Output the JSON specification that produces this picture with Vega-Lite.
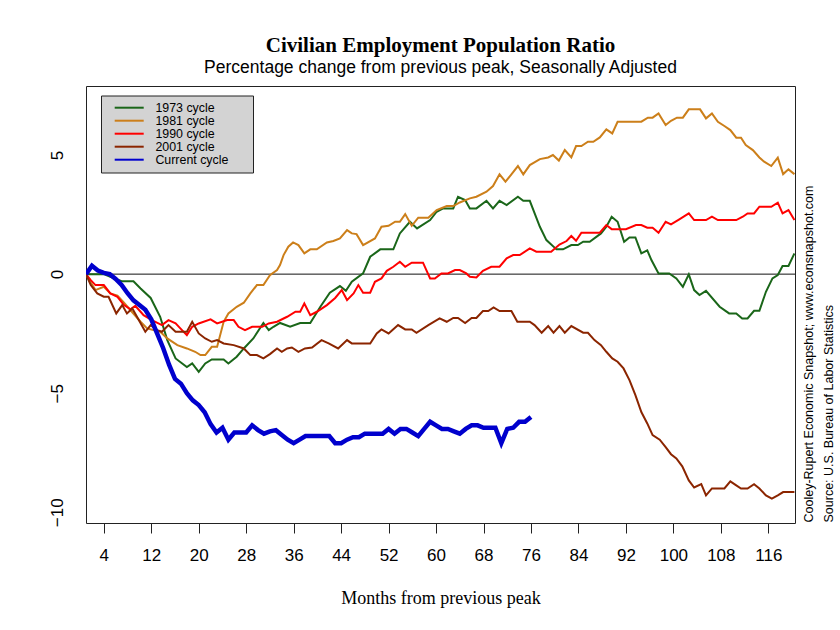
{
  "$schema": "https://vega.github.io/schema/vega-lite/v6.json",
  "width": 709,
  "height": 437,
  "autosize": {"type": "none"},
  "padding": {"left": 86, "top": 86, "right": 45, "bottom": 107},
  "background": "white",
  "title": {
    "text": "Civilian Employment Population Ratio",
    "subtitle": "Percentage change from previous peak, Seasonally Adjusted",
    "font": "Liberation Serif", "fontSize": 21, "fontWeight": "bold", "color": "black",
    "subtitleFont": "Liberation Sans", "subtitleFontSize": 17.5, "subtitleColor": "black",
    "anchor": "middle", "frame": "group", "offset": 10, "subtitlePadding": 3
  },
  "config": {
    "view": {"stroke": "#222", "strokeWidth": 1},
    "axis": {"grid": false}
  },
  "data": {"values": [
    {"series":"1973 cycle","month":1,"value":0},{"series":"1973 cycle","month":4,"value":0},{"series":"1973 cycle","month":5,"value":-0.1},{"series":"1973 cycle","month":7,"value":-0.3},{"series":"1973 cycle","month":9,"value":-0.3},{"series":"1973 cycle","month":10.2,"value":-0.6},{"series":"1973 cycle","month":11.9,"value":-1.0},{"series":"1973 cycle","month":13.5,"value":-1.79},{"series":"1973 cycle","month":14.7,"value":-2.77},{"series":"1973 cycle","month":16.1,"value":-3.54},{"series":"1973 cycle","month":18,"value":-3.9},{"series":"1973 cycle","month":18.9,"value":-3.75},{"series":"1973 cycle","month":20,"value":-4.1},{"series":"1973 cycle","month":21.1,"value":-3.75},{"series":"1973 cycle","month":22.2,"value":-3.58},{"series":"1973 cycle","month":24.2,"value":-3.58},{"series":"1973 cycle","month":25,"value":-3.75},{"series":"1973 cycle","month":26.4,"value":-3.47},{"series":"1973 cycle","month":27.6,"value":-3.12},{"series":"1973 cycle","month":29.2,"value":-2.7},{"series":"1973 cycle","month":30.9,"value":-2.05},{"series":"1973 cycle","month":31.8,"value":-2.35},{"series":"1973 cycle","month":32.6,"value":-2.21},{"series":"1973 cycle","month":33.7,"value":-2.05},{"series":"1973 cycle","month":35.4,"value":-2.21},{"series":"1973 cycle","month":37.1,"value":-2.05},{"series":"1973 cycle","month":38.8,"value":-2.05},{"series":"1973 cycle","month":40.5,"value":-1.37},{"series":"1973 cycle","month":42.1,"value":-0.78},{"series":"1973 cycle","month":43.8,"value":-0.5},{"series":"1973 cycle","month":44.8,"value":-0.7},{"series":"1973 cycle","month":45.8,"value":-0.32},{"series":"1973 cycle","month":47.7,"value":0.03},{"series":"1973 cycle","month":48.9,"value":0.73},{"series":"1973 cycle","month":50.6,"value":1.04},{"series":"1973 cycle","month":52.8,"value":1.04},{"series":"1973 cycle","month":53.9,"value":1.71},{"series":"1973 cycle","month":55.6,"value":2.2},{"series":"1973 cycle","month":56.8,"value":1.92},{"series":"1973 cycle","month":59,"value":2.27},{"series":"1973 cycle","month":60.1,"value":2.62},{"series":"1973 cycle","month":61.2,"value":2.76},{"series":"1973 cycle","month":62.9,"value":2.76},{"series":"1973 cycle","month":63.7,"value":3.25},{"series":"1973 cycle","month":64.9,"value":3.11},{"series":"1973 cycle","month":65.7,"value":2.76},{"series":"1973 cycle","month":66.8,"value":2.76},{"series":"1973 cycle","month":68.5,"value":3.08},{"series":"1973 cycle","month":69.6,"value":2.76},{"series":"1973 cycle","month":70.7,"value":3.08},{"series":"1973 cycle","month":71.9,"value":2.9},{"series":"1973 cycle","month":73.8,"value":3.25},{"series":"1973 cycle","month":74.7,"value":3.08},{"series":"1973 cycle","month":75.8,"value":3.08},{"series":"1973 cycle","month":77.5,"value":1.99},{"series":"1973 cycle","month":78.6,"value":1.43},{"series":"1973 cycle","month":80.3,"value":1.04},{"series":"1973 cycle","month":81.4,"value":1.04},{"series":"1973 cycle","month":82.8,"value":1.22},{"series":"1973 cycle","month":83.9,"value":1.22},{"series":"1973 cycle","month":84.8,"value":1.36},{"series":"1973 cycle","month":85.9,"value":1.36},{"series":"1973 cycle","month":87.8,"value":1.71},{"series":"1973 cycle","month":88.7,"value":1.99},{"series":"1973 cycle","month":89.6,"value":2.41},{"series":"1973 cycle","month":90.6,"value":2.2},{"series":"1973 cycle","month":91.7,"value":1.36},{"series":"1973 cycle","month":92.6,"value":1.54},{"series":"1973 cycle","month":93.6,"value":1.54},{"series":"1973 cycle","month":94.6,"value":0.87},{"series":"1973 cycle","month":95.6,"value":1.0},{"series":"1973 cycle","month":96.3,"value":0.59},{"series":"1973 cycle","month":97.5,"value":0.03},{"series":"1973 cycle","month":99.3,"value":0.03},{"series":"1973 cycle","month":100.5,"value":-0.18},{"series":"1973 cycle","month":101.6,"value":-0.53},{"series":"1973 cycle","month":102.6,"value":-0.01},{"series":"1973 cycle","month":103.5,"value":-0.67},{"series":"1973 cycle","month":104.4,"value":-0.88},{"series":"1973 cycle","month":105.5,"value":-0.7},{"series":"1973 cycle","month":107.8,"value":-1.37},{"series":"1973 cycle","month":109.4,"value":-1.65},{"series":"1973 cycle","month":110.6,"value":-1.65},{"series":"1973 cycle","month":111.6,"value":-1.86},{"series":"1973 cycle","month":112.5,"value":-1.86},{"series":"1973 cycle","month":113.6,"value":-1.54},{"series":"1973 cycle","month":114.5,"value":-1.54},{"series":"1973 cycle","month":115.6,"value":-0.74},{"series":"1973 cycle","month":116.7,"value":-0.18},{"series":"1973 cycle","month":117.6,"value":-0.04},{"series":"1973 cycle","month":118.4,"value":0.34},{"series":"1973 cycle","month":119.4,"value":0.34},{"series":"1973 cycle","month":120.4,"value":0.87},

    {"series":"1981 cycle","month":1,"value":0},{"series":"1981 cycle","month":1.8,"value":-0.35},{"series":"1981 cycle","month":2.6,"value":-0.67},{"series":"1981 cycle","month":4,"value":-0.53},{"series":"1981 cycle","month":5.1,"value":-0.81},{"series":"1981 cycle","month":6.3,"value":-0.9},{"series":"1981 cycle","month":7.4,"value":-1.2},{"series":"1981 cycle","month":8.8,"value":-1.6},{"series":"1981 cycle","month":10.2,"value":-2.0},{"series":"1981 cycle","month":11.3,"value":-2.28},{"series":"1981 cycle","month":13.5,"value":-2.42},{"series":"1981 cycle","month":14.7,"value":-2.7},{"series":"1981 cycle","month":16.4,"value":-2.98},{"series":"1981 cycle","month":18,"value":-3.12},{"series":"1981 cycle","month":19.4,"value":-3.26},{"series":"1981 cycle","month":20.3,"value":-3.4},{"series":"1981 cycle","month":21.1,"value":-3.4},{"series":"1981 cycle","month":22.2,"value":-3.05},{"series":"1981 cycle","month":23.1,"value":-3.05},{"series":"1981 cycle","month":24.2,"value":-2.0},{"series":"1981 cycle","month":25,"value":-1.65},{"series":"1981 cycle","month":26.4,"value":-1.37},{"series":"1981 cycle","month":27.6,"value":-1.2},{"series":"1981 cycle","month":28.7,"value":-0.81},{"series":"1981 cycle","month":29.8,"value":-0.46},{"series":"1981 cycle","month":30.9,"value":-0.46},{"series":"1981 cycle","month":32,"value":-0.04},{"series":"1981 cycle","month":33.2,"value":0.17},{"series":"1981 cycle","month":33.7,"value":0.38},{"series":"1981 cycle","month":34.3,"value":0.8},{"series":"1981 cycle","month":35.1,"value":1.15},{"series":"1981 cycle","month":35.9,"value":1.33},{"series":"1981 cycle","month":36.8,"value":1.22},{"series":"1981 cycle","month":37.8,"value":0.87},{"series":"1981 cycle","month":38.8,"value":1.04},{"series":"1981 cycle","month":39.9,"value":1.04},{"series":"1981 cycle","month":41.6,"value":1.33},{"series":"1981 cycle","month":42.7,"value":1.39},{"series":"1981 cycle","month":43.8,"value":1.5},{"series":"1981 cycle","month":45,"value":1.85},{"series":"1981 cycle","month":45.8,"value":1.71},{"series":"1981 cycle","month":46.6,"value":1.68},{"series":"1981 cycle","month":47.7,"value":1.22},{"series":"1981 cycle","month":49.7,"value":1.5},{"series":"1981 cycle","month":50.8,"value":1.99},{"series":"1981 cycle","month":52,"value":2.03},{"series":"1981 cycle","month":53.1,"value":2.2},{"series":"1981 cycle","month":53.9,"value":2.2},{"series":"1981 cycle","month":54.8,"value":2.52},{"series":"1981 cycle","month":55.9,"value":2.03},{"series":"1981 cycle","month":57,"value":2.37},{"series":"1981 cycle","month":58.7,"value":2.37},{"series":"1981 cycle","month":60.1,"value":2.69},{"series":"1981 cycle","month":61.8,"value":2.86},{"series":"1981 cycle","month":62.9,"value":2.86},{"series":"1981 cycle","month":64,"value":3.01},{"series":"1981 cycle","month":65.7,"value":3.18},{"series":"1981 cycle","month":66.8,"value":3.25},{"series":"1981 cycle","month":68.5,"value":3.46},{"series":"1981 cycle","month":69.6,"value":3.7},{"series":"1981 cycle","month":70.7,"value":4.19},{"series":"1981 cycle","month":71.7,"value":3.88},{"series":"1981 cycle","month":72.7,"value":4.19},{"series":"1981 cycle","month":73.8,"value":4.54},{"series":"1981 cycle","month":74.7,"value":4.19},{"series":"1981 cycle","month":75.8,"value":4.58},{"series":"1981 cycle","month":77.5,"value":4.83},{"series":"1981 cycle","month":78.9,"value":4.9},{"series":"1981 cycle","month":79.7,"value":5.0},{"series":"1981 cycle","month":80.7,"value":4.77},{"series":"1981 cycle","month":81.7,"value":5.21},{"series":"1981 cycle","month":82.8,"value":4.9},{"series":"1981 cycle","month":83.6,"value":5.38},{"series":"1981 cycle","month":84.5,"value":5.38},{"series":"1981 cycle","month":85.6,"value":5.56},{"series":"1981 cycle","month":86.5,"value":5.56},{"series":"1981 cycle","month":87.6,"value":5.74},{"series":"1981 cycle","month":88.7,"value":6.08},{"series":"1981 cycle","month":89.7,"value":5.91},{"series":"1981 cycle","month":90.6,"value":6.4},{"series":"1981 cycle","month":94.6,"value":6.4},{"series":"1981 cycle","month":95.7,"value":6.57},{"series":"1981 cycle","month":96.5,"value":6.57},{"series":"1981 cycle","month":97.5,"value":6.75},{"series":"1981 cycle","month":98.7,"value":6.26},{"series":"1981 cycle","month":99.6,"value":6.44},{"series":"1981 cycle","month":100.6,"value":6.57},{"series":"1981 cycle","month":101.6,"value":6.57},{"series":"1981 cycle","month":102.6,"value":6.92},{"series":"1981 cycle","month":104.5,"value":6.92},{"series":"1981 cycle","month":105.5,"value":6.54},{"series":"1981 cycle","month":106.5,"value":6.75},{"series":"1981 cycle","month":107.5,"value":6.4},{"series":"1981 cycle","month":108.6,"value":6.22},{"series":"1981 cycle","month":109.6,"value":6.05},{"series":"1981 cycle","month":110.6,"value":5.73},{"series":"1981 cycle","month":111.4,"value":5.73},{"series":"1981 cycle","month":112.2,"value":5.42},{"series":"1981 cycle","month":113.4,"value":5.21},{"series":"1981 cycle","month":114.5,"value":4.9},{"series":"1981 cycle","month":115.3,"value":4.72},{"series":"1981 cycle","month":116.5,"value":4.54},{"series":"1981 cycle","month":117.6,"value":4.89},{"series":"1981 cycle","month":118.5,"value":4.2},{"series":"1981 cycle","month":119.4,"value":4.4},{"series":"1981 cycle","month":120.4,"value":4.2},

    {"series":"1990 cycle","month":1,"value":0},{"series":"1990 cycle","month":1.8,"value":-0.25},{"series":"1990 cycle","month":2.6,"value":-0.46},{"series":"1990 cycle","month":4,"value":-0.46},{"series":"1990 cycle","month":5.1,"value":-0.81},{"series":"1990 cycle","month":6.3,"value":-0.95},{"series":"1990 cycle","month":7.4,"value":-1.3},{"series":"1990 cycle","month":8.5,"value":-1.48},{"series":"1990 cycle","month":9.3,"value":-1.33},{"series":"1990 cycle","month":10.2,"value":-1.58},{"series":"1990 cycle","month":10.7,"value":-1.72},{"series":"1990 cycle","month":12.1,"value":-1.93},{"series":"1990 cycle","month":13.8,"value":-2.14},{"series":"1990 cycle","month":14.9,"value":-1.93},{"series":"1990 cycle","month":16.1,"value":-2.07},{"series":"1990 cycle","month":16.9,"value":-2.28},{"series":"1990 cycle","month":18,"value":-2.56},{"series":"1990 cycle","month":18.9,"value":-2.21},{"series":"1990 cycle","month":20,"value":-2.07},{"series":"1990 cycle","month":22,"value":-1.9},{"series":"1990 cycle","month":23.1,"value":-2.07},{"series":"1990 cycle","month":24.8,"value":-1.93},{"series":"1990 cycle","month":25.9,"value":-1.93},{"series":"1990 cycle","month":26.7,"value":-2.21},{"series":"1990 cycle","month":27.8,"value":-2.35},{"series":"1990 cycle","month":29,"value":-2.21},{"series":"1990 cycle","month":30.7,"value":-2.21},{"series":"1990 cycle","month":31.8,"value":-2.07},{"series":"1990 cycle","month":33.2,"value":-2.0},{"series":"1990 cycle","month":34.9,"value":-1.79},{"series":"1990 cycle","month":36.3,"value":-1.58},{"series":"1990 cycle","month":37.1,"value":-1.58},{"series":"1990 cycle","month":37.8,"value":-1.23},{"series":"1990 cycle","month":38.8,"value":-1.72},{"series":"1990 cycle","month":39.9,"value":-1.58},{"series":"1990 cycle","month":41.6,"value":-1.3},{"series":"1990 cycle","month":43,"value":-1.0},{"series":"1990 cycle","month":44.1,"value":-0.67},{"series":"1990 cycle","month":45,"value":-1.09},{"series":"1990 cycle","month":46.1,"value":-0.81},{"series":"1990 cycle","month":46.9,"value":-0.46},{"series":"1990 cycle","month":47.7,"value":-0.78},{"series":"1990 cycle","month":48.9,"value":-0.78},{"series":"1990 cycle","month":49.7,"value":-0.32},{"series":"1990 cycle","month":50.8,"value":-0.18},{"series":"1990 cycle","month":51.7,"value":0.14},{"series":"1990 cycle","month":52.8,"value":0.31},{"series":"1990 cycle","month":53.9,"value":0.52},{"series":"1990 cycle","month":54.8,"value":0.31},{"series":"1990 cycle","month":55.9,"value":0.48},{"series":"1990 cycle","month":57.8,"value":0.48},{"series":"1990 cycle","month":59,"value":-0.18},{"series":"1990 cycle","month":59.8,"value":-0.18},{"series":"1990 cycle","month":60.9,"value":0.03},{"series":"1990 cycle","month":62,"value":0.03},{"series":"1990 cycle","month":63.2,"value":0.17},{"series":"1990 cycle","month":64,"value":0.17},{"series":"1990 cycle","month":65.1,"value":0.03},{"series":"1990 cycle","month":65.7,"value":-0.11},{"series":"1990 cycle","month":66.8,"value":-0.14},{"series":"1990 cycle","month":67.9,"value":0.14},{"series":"1990 cycle","month":69.3,"value":0.31},{"series":"1990 cycle","month":70.7,"value":0.31},{"series":"1990 cycle","month":71.9,"value":0.66},{"series":"1990 cycle","month":73,"value":0.8},{"series":"1990 cycle","month":74.1,"value":0.8},{"series":"1990 cycle","month":75.8,"value":1.08},{"series":"1990 cycle","month":76.9,"value":0.94},{"series":"1990 cycle","month":79.4,"value":0.94},{"series":"1990 cycle","month":80.8,"value":1.24},{"series":"1990 cycle","month":82,"value":1.39},{"series":"1990 cycle","month":82.8,"value":1.6},{"series":"1990 cycle","month":83.6,"value":1.4},{"series":"1990 cycle","month":84.5,"value":1.74},{"series":"1990 cycle","month":87.6,"value":1.74},{"series":"1990 cycle","month":88.7,"value":2.06},{"series":"1990 cycle","month":89.6,"value":1.89},{"series":"1990 cycle","month":92,"value":1.89},{"series":"1990 cycle","month":93.7,"value":2.06},{"series":"1990 cycle","month":94.6,"value":2.06},{"series":"1990 cycle","month":95.6,"value":1.95},{"series":"1990 cycle","month":96.5,"value":1.95},{"series":"1990 cycle","month":97.5,"value":1.74},{"series":"1990 cycle","month":98.7,"value":2.2},{"series":"1990 cycle","month":99.6,"value":2.09},{"series":"1990 cycle","month":101,"value":2.3},{"series":"1990 cycle","month":102.6,"value":2.55},{"series":"1990 cycle","month":103.5,"value":2.27},{"series":"1990 cycle","month":105.5,"value":2.27},{"series":"1990 cycle","month":106.5,"value":2.41},{"series":"1990 cycle","month":107.5,"value":2.27},{"series":"1990 cycle","month":110.6,"value":2.27},{"series":"1990 cycle","month":111.7,"value":2.41},{"series":"1990 cycle","month":112.5,"value":2.55},{"series":"1990 cycle","month":113.6,"value":2.55},{"series":"1990 cycle","month":114.5,"value":2.83},{"series":"1990 cycle","month":116.5,"value":2.83},{"series":"1990 cycle","month":117.6,"value":3.0},{"series":"1990 cycle","month":118.4,"value":2.55},{"series":"1990 cycle","month":119.4,"value":2.69},{"series":"1990 cycle","month":120.4,"value":2.27},

    {"series":"2001 cycle","month":1,"value":0},{"series":"2001 cycle","month":1.8,"value":-0.46},{"series":"2001 cycle","month":2.9,"value":-0.81},{"series":"2001 cycle","month":4,"value":-0.95},{"series":"2001 cycle","month":4.8,"value":-0.95},{"series":"2001 cycle","month":6.1,"value":-1.65},{"series":"2001 cycle","month":7.1,"value":-1.3},{"series":"2001 cycle","month":7.9,"value":-1.65},{"series":"2001 cycle","month":8.8,"value":-1.44},{"series":"2001 cycle","month":9.9,"value":-1.93},{"series":"2001 cycle","month":11,"value":-2.42},{"series":"2001 cycle","month":11.9,"value":-2.14},{"series":"2001 cycle","month":13,"value":-2.35},{"series":"2001 cycle","month":13.8,"value":-2.42},{"series":"2001 cycle","month":14.9,"value":-2.14},{"series":"2001 cycle","month":16.1,"value":-2.42},{"series":"2001 cycle","month":18,"value":-2.42},{"series":"2001 cycle","month":18.9,"value":-2.0},{"series":"2001 cycle","month":20,"value":-2.49},{"series":"2001 cycle","month":21.1,"value":-2.7},{"series":"2001 cycle","month":22.2,"value":-2.84},{"series":"2001 cycle","month":23.1,"value":-2.77},{"series":"2001 cycle","month":24.2,"value":-2.91},{"series":"2001 cycle","month":25.9,"value":-2.98},{"series":"2001 cycle","month":27.6,"value":-3.12},{"series":"2001 cycle","month":28.7,"value":-3.4},{"series":"2001 cycle","month":29.8,"value":-3.4},{"series":"2001 cycle","month":30.9,"value":-3.54},{"series":"2001 cycle","month":32,"value":-3.36},{"series":"2001 cycle","month":33.2,"value":-3.12},{"series":"2001 cycle","month":34,"value":-3.26},{"series":"2001 cycle","month":34.9,"value":-3.12},{"series":"2001 cycle","month":35.7,"value":-3.08},{"series":"2001 cycle","month":36.8,"value":-3.26},{"series":"2001 cycle","month":37.9,"value":-3.12},{"series":"2001 cycle","month":39.1,"value":-3.08},{"series":"2001 cycle","month":40.7,"value":-2.77},{"series":"2001 cycle","month":41.9,"value":-2.91},{"series":"2001 cycle","month":43.5,"value":-3.12},{"series":"2001 cycle","month":45,"value":-2.77},{"series":"2001 cycle","month":45.8,"value":-2.91},{"series":"2001 cycle","month":48.9,"value":-2.91},{"series":"2001 cycle","month":50,"value":-2.49},{"series":"2001 cycle","month":50.8,"value":-2.32},{"series":"2001 cycle","month":52,"value":-2.49},{"series":"2001 cycle","month":53.6,"value":-2.14},{"series":"2001 cycle","month":54.8,"value":-2.32},{"series":"2001 cycle","month":55.9,"value":-2.32},{"series":"2001 cycle","month":56.7,"value":-2.46},{"series":"2001 cycle","month":58.7,"value":-2.14},{"series":"2001 cycle","month":60.6,"value":-1.86},{"series":"2001 cycle","month":61.8,"value":-2.0},{"series":"2001 cycle","month":62.9,"value":-1.84},{"series":"2001 cycle","month":63.7,"value":-1.84},{"series":"2001 cycle","month":64.9,"value":-2.05},{"series":"2001 cycle","month":66,"value":-1.84},{"series":"2001 cycle","month":66.8,"value":-1.84},{"series":"2001 cycle","month":67.9,"value":-1.55},{"series":"2001 cycle","month":68.8,"value":-1.55},{"series":"2001 cycle","month":69.7,"value":-1.4},{"series":"2001 cycle","month":70.7,"value":-1.55},{"series":"2001 cycle","month":72.7,"value":-1.55},{"series":"2001 cycle","month":73.7,"value":-2.0},{"series":"2001 cycle","month":75.8,"value":-2.0},{"series":"2001 cycle","month":76.6,"value":-2.14},{"series":"2001 cycle","month":77.8,"value":-2.46},{"series":"2001 cycle","month":78.9,"value":-2.18},{"series":"2001 cycle","month":79.8,"value":-2.46},{"series":"2001 cycle","month":80.8,"value":-2.18},{"series":"2001 cycle","month":81.7,"value":-2.46},{"series":"2001 cycle","month":82.8,"value":-2.18},{"series":"2001 cycle","month":84.8,"value":-2.46},{"series":"2001 cycle","month":85.6,"value":-2.46},{"series":"2001 cycle","month":86.7,"value":-2.77},{"series":"2001 cycle","month":87.8,"value":-2.98},{"series":"2001 cycle","month":88.7,"value":-3.26},{"series":"2001 cycle","month":89.7,"value":-3.54},{"series":"2001 cycle","month":90.6,"value":-3.68},{"series":"2001 cycle","month":91.6,"value":-3.96},{"series":"2001 cycle","month":92.6,"value":-4.45},{"series":"2001 cycle","month":93.6,"value":-5.08},{"series":"2001 cycle","month":94.6,"value":-5.79},{"series":"2001 cycle","month":95.6,"value":-6.27},{"series":"2001 cycle","month":96.5,"value":-6.76},{"series":"2001 cycle","month":97.7,"value":-6.95},{"series":"2001 cycle","month":98.7,"value":-7.26},{"series":"2001 cycle","month":99.6,"value":-7.56},{"series":"2001 cycle","month":100.5,"value":-7.74},{"series":"2001 cycle","month":101.5,"value":-8.07},{"series":"2001 cycle","month":102.6,"value":-8.66},{"series":"2001 cycle","month":103.5,"value":-8.96},{"series":"2001 cycle","month":104.7,"value":-8.82},{"series":"2001 cycle","month":105.5,"value":-9.29},{"series":"2001 cycle","month":106.5,"value":-9.0},{"series":"2001 cycle","month":108.6,"value":-9.0},{"series":"2001 cycle","month":109.6,"value":-8.7},{"series":"2001 cycle","month":110.6,"value":-8.87},{"series":"2001 cycle","month":111.4,"value":-9.0},{"series":"2001 cycle","month":112.5,"value":-9.0},{"series":"2001 cycle","month":113.6,"value":-8.82},{"series":"2001 cycle","month":114.5,"value":-9.0},{"series":"2001 cycle","month":115.6,"value":-9.29},{"series":"2001 cycle","month":116.6,"value":-9.43},{"series":"2001 cycle","month":117.6,"value":-9.29},{"series":"2001 cycle","month":118.5,"value":-9.15},{"series":"2001 cycle","month":120.4,"value":-9.15},

    {"series":"Current cycle","month":1,"value":0},{"series":"Current cycle","month":2,"value":0.35},{"series":"Current cycle","month":3,"value":0.15},{"series":"Current cycle","month":4,"value":0.05},{"series":"Current cycle","month":5,"value":0},{"series":"Current cycle","month":6,"value":-0.2},{"series":"Current cycle","month":7,"value":-0.45},{"series":"Current cycle","month":8,"value":-0.8},{"series":"Current cycle","month":9,"value":-1.1},{"series":"Current cycle","month":10,"value":-1.3},{"series":"Current cycle","month":11,"value":-1.5},{"series":"Current cycle","month":12,"value":-1.9},{"series":"Current cycle","month":13,"value":-2.5},{"series":"Current cycle","month":14,"value":-3.1},{"series":"Current cycle","month":15,"value":-3.8},{"series":"Current cycle","month":16,"value":-4.4},{"series":"Current cycle","month":17,"value":-4.6},{"series":"Current cycle","month":18,"value":-5.0},{"series":"Current cycle","month":19,"value":-5.3},{"series":"Current cycle","month":20,"value":-5.5},{"series":"Current cycle","month":21,"value":-5.8},{"series":"Current cycle","month":22,"value":-6.3},{"series":"Current cycle","month":23,"value":-6.65},{"series":"Current cycle","month":24,"value":-6.45},{"series":"Current cycle","month":25,"value":-6.95},{"series":"Current cycle","month":26,"value":-6.65},{"series":"Current cycle","month":27,"value":-6.65},{"series":"Current cycle","month":28,"value":-6.65},{"series":"Current cycle","month":29,"value":-6.35},{"series":"Current cycle","month":30,"value":-6.55},{"series":"Current cycle","month":31,"value":-6.7},{"series":"Current cycle","month":32,"value":-6.6},{"series":"Current cycle","month":33,"value":-6.55},{"series":"Current cycle","month":34,"value":-6.75},{"series":"Current cycle","month":35,"value":-6.95},{"series":"Current cycle","month":36,"value":-7.1},{"series":"Current cycle","month":37,"value":-6.95},{"series":"Current cycle","month":38,"value":-6.8},{"series":"Current cycle","month":39,"value":-6.8},{"series":"Current cycle","month":40,"value":-6.8},{"series":"Current cycle","month":41,"value":-6.8},{"series":"Current cycle","month":42,"value":-6.8},{"series":"Current cycle","month":43,"value":-7.1},{"series":"Current cycle","month":44,"value":-7.1},{"series":"Current cycle","month":45,"value":-6.95},{"series":"Current cycle","month":46,"value":-6.85},{"series":"Current cycle","month":47,"value":-6.85},{"series":"Current cycle","month":48,"value":-6.7},{"series":"Current cycle","month":49,"value":-6.7},{"series":"Current cycle","month":50,"value":-6.7},{"series":"Current cycle","month":51,"value":-6.7},{"series":"Current cycle","month":52,"value":-6.5},{"series":"Current cycle","month":53,"value":-6.7},{"series":"Current cycle","month":54,"value":-6.5},{"series":"Current cycle","month":55,"value":-6.5},{"series":"Current cycle","month":56,"value":-6.65},{"series":"Current cycle","month":57,"value":-6.8},{"series":"Current cycle","month":58,"value":-6.5},{"series":"Current cycle","month":59,"value":-6.2},{"series":"Current cycle","month":60,"value":-6.35},{"series":"Current cycle","month":61,"value":-6.5},{"series":"Current cycle","month":62,"value":-6.5},{"series":"Current cycle","month":63,"value":-6.6},{"series":"Current cycle","month":64,"value":-6.7},{"series":"Current cycle","month":65,"value":-6.5},{"series":"Current cycle","month":66,"value":-6.35},{"series":"Current cycle","month":67,"value":-6.35},{"series":"Current cycle","month":68,"value":-6.45},{"series":"Current cycle","month":69,"value":-6.45},{"series":"Current cycle","month":70,"value":-6.45},{"series":"Current cycle","month":71,"value":-7.1},{"series":"Current cycle","month":72,"value":-6.5},{"series":"Current cycle","month":73,"value":-6.45},{"series":"Current cycle","month":74,"value":-6.2},{"series":"Current cycle","month":75,"value":-6.2},{"series":"Current cycle","month":76,"value":-6.0}
  ]},
  "layer": [
    {
      "data": {"values": [{}]},
      "mark": {"type": "rule", "color": "#111", "strokeWidth": 1},
      "encoding": {
        "y": {
          "datum": 0, "type": "quantitative",
          "scale": {"domain": [-10.45, 7.9], "nice": false, "zero": false},
          "axis": {
            "orient": "right", "labels": false, "ticks": false, "domain": false, "grid": false,
            "minExtent": 0, "maxExtent": 0,
            "title": ["Cooley-Rupert Economic Snapshot; www.econsnapshot.com", "Source: U.S. Bureau of Labor Statistics"],
            "titleAngle": 270, "titleAnchor": "start", "titleAlign": "left", "titleBaseline": "top",
            "titleX": 7.5, "titleY": 436,
            "titleFont": "Liberation Sans", "titleFontSize": 12.5, "titleFontWeight": "normal",
            "titleColor": "black", "titleLineHeight": 20
          }
        }
      }
    },
    {
      "transform": [{"filter": "datum.series != 'Current cycle'"}],
      "mark": {"type": "line", "strokeWidth": 2, "clip": true},
      "encoding": {
        "x": {
          "field": "month", "type": "quantitative",
          "scale": {"domain": [1, 120.5], "nice": false, "zero": false},
          "axis": {
            "values": [4,8,12,16,20,24,28,32,36,40,44,48,52,56,60,64,68,72,76,80,84,88,92,96,100,104,108,112,116,120],
            "labelExpr": "datum.value % 8 == 4 ? datum.label : ''",
            "grid": false, "domain": false, "tickSize": 10, "tickColor": "#222", "tickWidth": 1,
            "labelFont": "Liberation Sans", "labelFontSize": 17, "labelColor": "black", "labelPadding": 14,
            "labelOverlap": false, "labelFlush": false,
            "title": "Months from previous peak", "titleFont": "Liberation Serif", "titleFontSize": 18,
            "titleFontWeight": "normal", "titleColor": "black", "titleBaseline": "alphabetic", "titleY": 80
          }
        },
        "y": {
          "field": "value", "type": "quantitative",
          "scale": {"domain": [-10.45, 7.9], "nice": false, "zero": false},
          "axis": {
            "values": [-10, -5, 0, 5], "grid": false, "domain": false, "ticks": false, "tickSize": 0,
            "labelAngle": -90, "labelAlign": "center", "labelBaseline": "alphabetic", "labelPadding": 24,
            "labelFont": "Liberation Sans", "labelFontSize": 17, "labelColor": "black", "title": null
          }
        },
        "color": {
          "field": "series", "type": "nominal",
          "scale": {
            "domain": ["1973 cycle", "1981 cycle", "1990 cycle", "2001 cycle", "Current cycle"],
            "range": ["#1a6619", "#CC7F1A", "#FF0000", "#8B2500", "#0000CD"]
          },
          "legend": {
            "orient": "none", "legendX": 15, "legendY": 9.5, "title": null,
            "fillColor": "#d3d3d3", "strokeColor": "#222", "padding": 6,
            "symbolType": "M-2.9,0H2.9M22.6,0L22.6,0", "symbolSize": 100, "symbolStrokeWidth": 2, "symbolOffset": 16,
            "labelOffset": 20, "labelFont": "Liberation Sans", "labelFontSize": 12.4, "labelColor": "black",
            "rowPadding": 0
          }
        }
      }
    },
    {
      "transform": [{"filter": "datum.series == 'Current cycle'"}],
      "mark": {"type": "line", "strokeWidth": 4.5, "clip": true},
      "encoding": {
        "x": {"field": "month", "type": "quantitative", "scale": {"domain": [1, 120.5], "nice": false, "zero": false}},
        "y": {"field": "value", "type": "quantitative", "scale": {"domain": [-10.45, 7.9], "nice": false, "zero": false}, "axis": null},
        "color": {"field": "series", "type": "nominal"}
      }
    }
  ],
  "resolve": {"axis": {"y": "independent"}}
}
